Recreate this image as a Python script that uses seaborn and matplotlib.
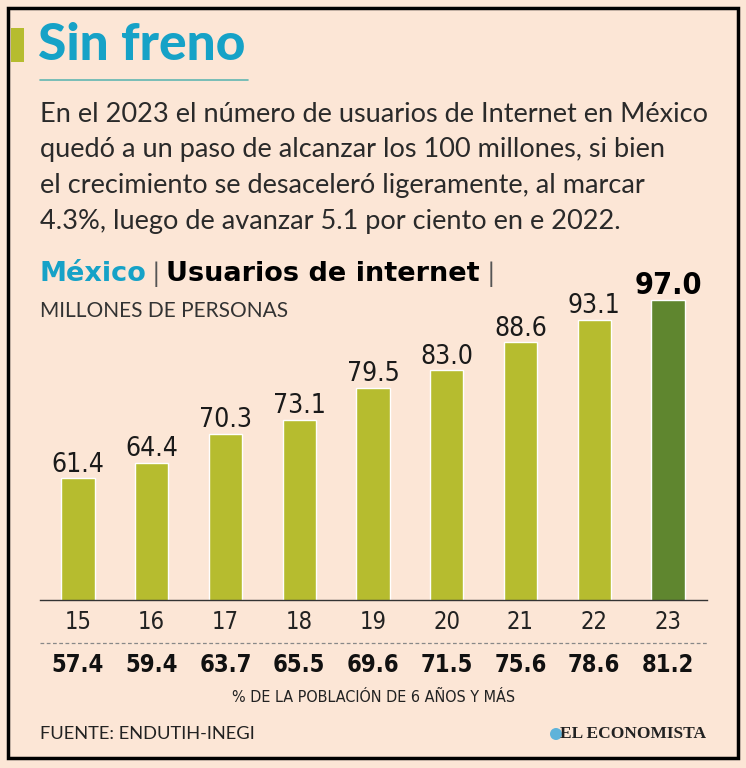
import matplotlib.pyplot as plt
import matplotlib.patches as patches
import seaborn as sns

# === Datos ===
anios = ["15", "16", "17", "18", "19", "20", "21", "22", "23"]
usuarios = [61.4, 64.4, 70.3, 73.1, 79.5, 83.0, 88.6, 93.1, 97.0]
porcentaje = ["57.4", "59.4", "63.7", "65.5", "69.6", "71.5", "75.6", "78.6", "81.2"]

fondo = "#FCE6D6"
verde = "#B6BC2F"
verde_osc = "#5F862F"
azul = "#16A2C7"
colores = [verde] * (len(anios) - 1) + [verde_osc]

sns.set_style("white")
plt.rcParams["font.family"] = ["Lato", "DejaVu Sans"]
cond = ["DejaVu Sans"]

W, H = 746, 768
fig = plt.figure(figsize=(W / 100, H / 100), dpi=100, facecolor=fondo)


def fy(y):
    return 1 - y / H


def fx(x):
    return x / W


# === Marco y título ===
fig.patches.append(patches.Rectangle((fx(8), fy(758)), fx(730), 750 / H, transform=fig.transFigure,
                                     fill=False, edgecolor="black", linewidth=2.5))
fig.patches.append(patches.Rectangle((fx(11), fy(62)), fx(13), 34 / H, transform=fig.transFigure,
                                     facecolor=verde, edgecolor="none"))
fig.text(fx(38), fy(45), "Sin freno", color=azul, fontsize=37, fontweight="black", va="center")
fig.add_artist(plt.Line2D([fx(40), fx(248)], [fy(80), fy(80)], color="#62B7B1", linewidth=1.2))

parrafo = [
    "En el 2023 el número de usuarios de Internet en México",
    "quedó a un paso de alcanzar los 100 millones, si bien",
    "el crecimiento se desaceleró ligeramente, al marcar",
    "4.3%, luego de avanzar 5.1 por ciento en e 2022.",
]
for i, linea in enumerate(parrafo):
    fig.text(fx(40), fy(114 + i * 36), linea, fontsize=19.5, color="#2a2a2a", va="center")

# === Subtítulo ===
sub = dict(fontsize=19.5, fontweight="bold", va="center", family=["DejaVu Sans"])
fig.text(fx(40), fy(274), "México", color=azul, **sub)
fig.text(fx(153), fy(274), "|", color="#555555", fontsize=19, va="center")
fig.text(fx(166), fy(274), "Usuarios de internet", color="black", **sub)
fig.text(fx(488), fy(274), "|", color="#555555", fontsize=19, va="center")
fig.text(fx(40), fy(311), "MILLONES DE PERSONAS", color="#333333", fontsize=15, va="center")

# === Gráfico de barras ===
ax = fig.add_axes([fx(40), fy(600), fx(667), 310 / H])
ax.set_facecolor("none")
sns.barplot(x=anios, y=usuarios, hue=anios, palette=colores, legend=False,
            width=0.45, saturation=1, ax=ax)
ax.set_xlim(-0.515, 8.53)
ax.set_ylim(37, 99)
for i, v in enumerate(usuarios):
    ultimo = i == len(usuarios) - 1
    ax.text(i, v + 0.1, f"{v:.1f}", ha="center", va="bottom", clip_on=False,
            family=cond, fontstretch="condensed", fontsize=22 if ultimo else 19,
            fontweight="bold" if ultimo else "normal", color="black" if ultimo else "#1a1a1a")
sns.despine(ax=ax, left=True, top=True, right=True)
ax.spines["bottom"].set_color("#333333")
ax.spines["bottom"].set_linewidth(1)
ax.set_yticks([])
ax.set_xticks([])
ax.set_xlabel("")
ax.set_ylabel("")

# años y porcentajes
for i, (a, p) in enumerate(zip(anios, porcentaje)):
    x = ax.transData.transform((i, 0))[0] / W
    fig.text(x, fy(622), a, ha="center", va="center", family=cond, fontstretch="condensed",
             fontsize=17, color="#222222")
    fig.text(x, fy(665), p, ha="center", va="center", family=cond, fontstretch="condensed",
             fontsize=17, fontweight="bold", color="#111111")
fig.add_artist(plt.Line2D([fx(40), fx(707)], [fy(643), fy(643)], color="#888888",
                          linewidth=0.9, linestyle=(0, (3, 2))))
fig.text(0.5, fy(697), "% DE LA POBLACIÓN DE 6 AÑOS Y MÁS", ha="center", va="center",
         family=cond, fontstretch="condensed", fontsize=11.5, color="#222222")

# === Pie ===
fig.text(fx(40), fy(734), "FUENTE: ENDUTIH-INEGI", fontsize=13.2, color="#222222", va="center")
fig.text(fx(706), fy(734), "EL ECONOMISTA", ha="right", va="center", family=["Liberation Serif"],
         fontsize=12.5, fontweight="bold", color="#222222")
fig.patches.append(patches.Ellipse((fx(556), fy(734)), fx(12), 12 / H, transform=fig.transFigure,
                                   facecolor="#5FB3DA", edgecolor="none"))

fig.savefig("out.png", dpi=100, facecolor=fondo)
